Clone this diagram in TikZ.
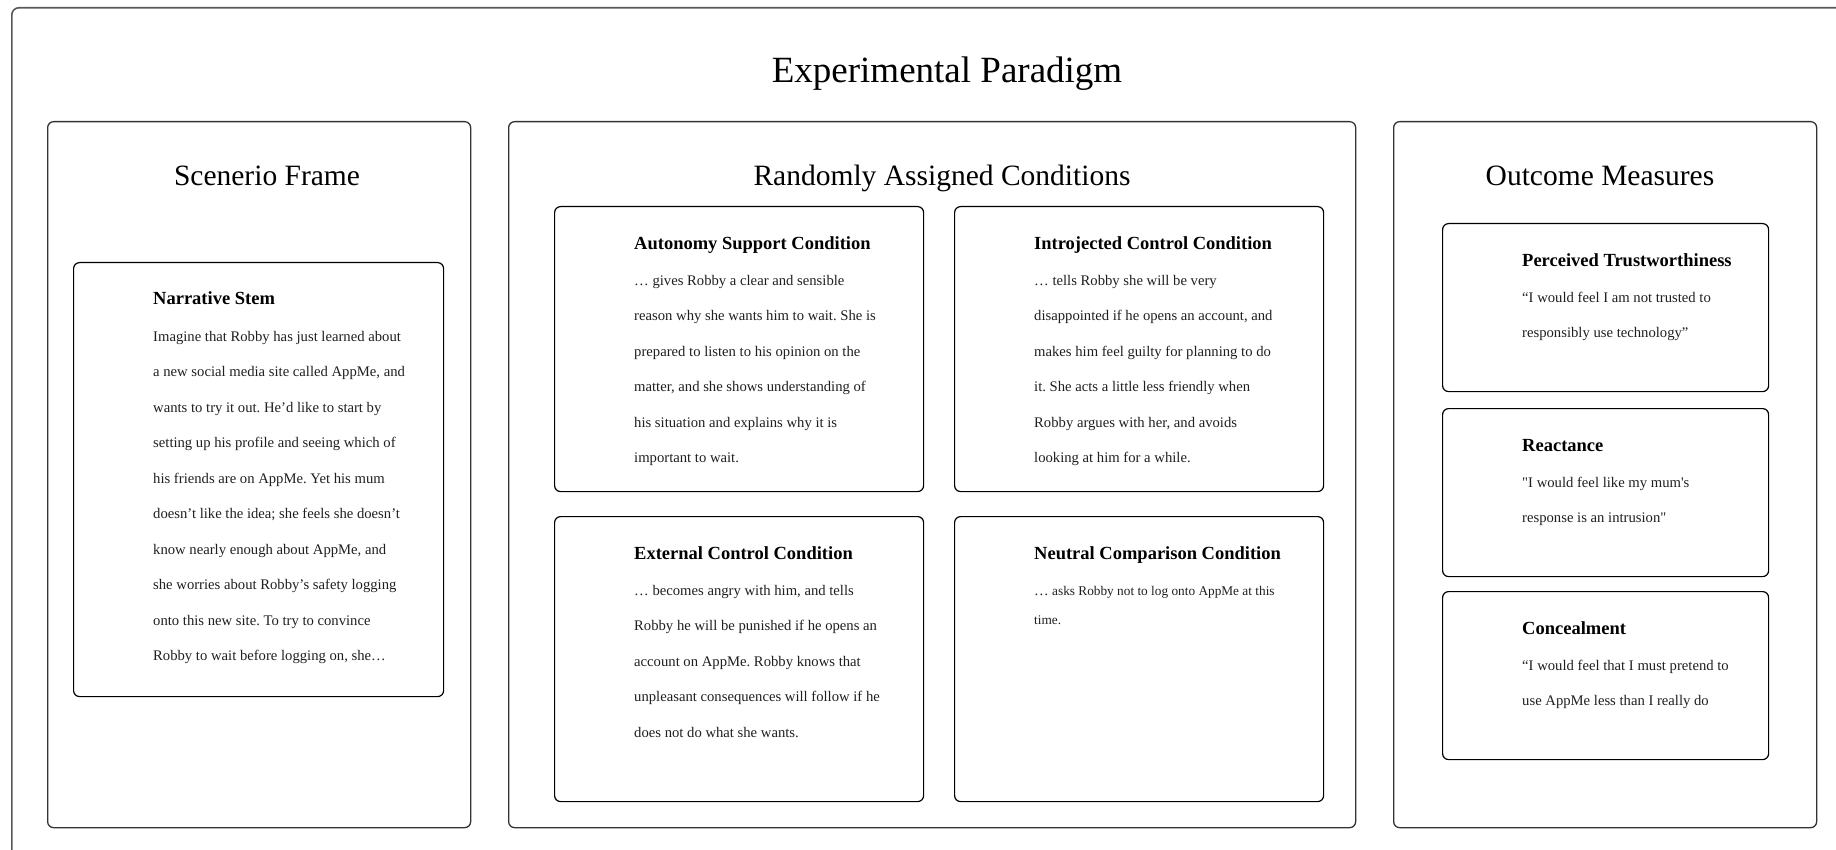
\documentclass[tikz,border=0pt]{standalone}
\usepackage{fontspec}
\setmainfont{Liberation Serif}
\newfontfamily\tnr{Liberation Serif}
\usetikzlibrary{positioning,calc}
\frenchspacing

\begin{document}
\begin{tikzpicture}[
    x=1pt, y=-1pt,
    frame/.style={rectangle, draw=black!65, line width=1.6pt, rounded corners=7pt, anchor=north west, inner sep=0pt},
    panel/.style={rectangle, draw=black!80, line width=1.3pt, rounded corners=6pt, anchor=north west, inner sep=0pt, minimum width=423pt, minimum height=706pt},
    card/.style={rectangle, draw=black, line width=1.2pt, rounded corners=6pt, anchor=north west, inner sep=0pt, minimum width=369pt, minimum height=285pt},
    mcard/.style={card, minimum width=326pt, minimum height=168pt},
    ptitle/.style={font=\tnr\fontsize{29.5}{35}\selectfont, anchor=base, inner sep=0pt},
    head/.style={font=\tnr\fontsize{18.5}{35.5}\selectfont\bfseries, anchor=base west, inner sep=0pt},
    body/.style={font=\tnr\fontsize{14.67}{35.5}\selectfont, text=black!88, anchor=base west, inner sep=0pt, align=left}
]
\useasboundingbox (0,0) rectangle (1836,850);
\clip (0,0) rectangle (1836,850);

% outer frame and title
\node [frame, minimum width=1860pt, minimum height=870pt] (paradigm) at (11,7) {};
\node [font=\tnr\fontsize{37}{40}\selectfont, anchor=base, inner sep=0pt] (title) at (947,83) {Experimental Paradigm};

% three panels
\node [panel] (scen) at (47,121) {};
\node [panel, minimum width=847pt] (cond) at (508,121) {};
\node [panel] (outc) at (1393,121) {};

\node [ptitle] (scenT) at (267,186) {Scenerio Frame};
\node [ptitle] (condT) at (942,186) {Randomly Assigned Conditions};
\node [ptitle] (outcT) at (1600,186) {Outcome Measures};

% scenario (body nodes sit on the baseline of their last line)
\node [card, minimum width=370pt, minimum height=434pt] (stem) at (73,262) {};
\node [head] (stemH) at ([xshift=80pt,yshift=-42.5pt]stem.north west) {Narrative Stem};
\node [body] (stemB) at ([yshift=-356pt]stemH.base west) {Imagine that Robby has just learned about\\
a new social media site called AppMe, and\\
wants to try it out. He’d like to start by\\
setting up his profile and seeing which of\\
his friends are on AppMe. Yet his mum\\
doesn’t like the idea; she feels she doesn’t\\
know nearly enough about AppMe, and\\
she worries about Robby’s safety logging\\
onto this new site. To try to convince\\
Robby to wait before logging on, she…};

% conditions
\node [card] (auto) at (554,206) {};
\node [card] (intro) at (954,206) {};
\node [card] (extern) at (554,516) {};
\node [card] (neutral) at (954,516) {};

\node [head] (autoH) at ([xshift=80pt,yshift=-43.5pt]auto.north west) {Autonomy Support Condition};
\node [body] (autoB) at ([yshift=-213pt]autoH.base west) {… gives Robby a clear and sensible\\
reason why she wants him to wait. She is\\
prepared to listen to his opinion on the\\
matter, and she shows understanding of\\
his situation and explains why it is\\
important to wait.};

\node [head] (introH) at ([xshift=80pt,yshift=-43.5pt]intro.north west) {Introjected Control Condition};
\node [body] (introB) at ([yshift=-213pt]introH.base west) {… tells Robby she will be very\\
disappointed if he opens an account, and\\
makes him feel guilty for planning to do\\
it. She acts a little less friendly when\\
Robby argues with her, and avoids\\
looking at him for a while.};

\node [head] (externH) at ([xshift=80pt,yshift=-43.5pt]extern.north west) {External Control Condition};
\node [body] (externB) at ([yshift=-177.5pt]externH.base west) {… becomes angry with him, and tells\\
Robby he will be punished if he opens an\\
account on AppMe. Robby knows that\\
unpleasant consequences will follow if he\\
does not do what she wants.};

\node [head] (neutralH) at ([xshift=80pt,yshift=-43.5pt]neutral.north west) {Neutral Comparison Condition};
\node [body, font=\tnr\fontsize{13.3}{29}\selectfont] (neutralB) at ([yshift=-65pt]neutralH.base west) {{\fontsize{14.67}{29}\selectfont …} asks Robby not to log onto AppMe at this\\
time.};

% outcome measures
\node [mcard] (trust) at (1442,223) {};
\node [mcard] (react) at (1442,408) {};
\node [mcard] (conceal) at (1442,591) {};

\node [head] (trustH) at ([xshift=80pt,yshift=-43.5pt]trust.north west) {Perceived Trustworthiness};
\node [body] (trustB) at ([yshift=-71pt]trustH.base west) {“I would feel I am not trusted to\\
responsibly use technology”};

\node [head] (reactH) at ([xshift=80pt,yshift=-43.5pt]react.north west) {Reactance};
\node [body] (reactB) at ([yshift=-71pt]reactH.base west) {"I would feel like my mum's\\
response is an intrusion"};

\node [head] (concealH) at ([xshift=80pt,yshift=-43.5pt]conceal.north west) {Concealment};
\node [body] (concealB) at ([yshift=-71pt]concealH.base west) {“I would feel that I must pretend to\\
use AppMe less than I really do};

\end{tikzpicture}
\end{document}
